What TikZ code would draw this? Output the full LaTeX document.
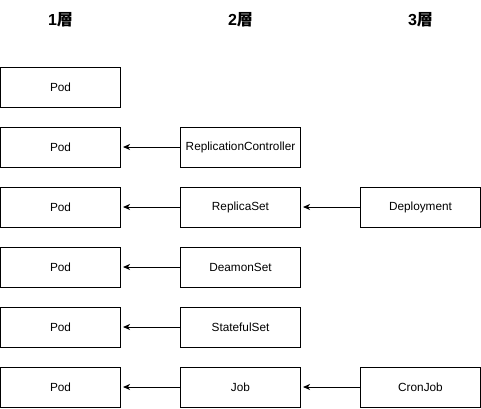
\documentclass[tikz,border=0pt]{standalone}
\usepackage{fontspec}
\setmainfont{Liberation Sans}
\newfontfamily\cjk{Noto Sans CJK JP}
\usetikzlibrary{arrows.meta}
\tikzset{
  layer/.style = {font=\fontsize{16}{18}\selectfont\bfseries},
  res/.style = {draw=black, line width=1pt, minimum width=120pt, minimum height=40pt, inner sep=0pt, font=\fontsize{11.8}{13}\selectfont},
  owns/.style = {color=#1, line width=1pt, -{Stealth[length=7pt,width=6pt,inset=2pt]}, shorten >=2pt}
}

\begin{document}
\begin{tikzpicture}[x=1pt, y=-1pt]

    \useasboundingbox (0,0) rectangle (481,408);

    % Headers
    \node[layer] (h1) at (60.5,20) {1{\cjk 層}};
    \node[layer] (h2) at (240.5,20) {2{\cjk 層}};
    \node[layer] (h3) at (420.5,20) {3{\cjk 層}};

    % Layer 1
    \foreach \i/\y in {1/87,2/147,3/207,4/267,5/327,6/387} {
      \node[res] (pod\i) at (60.5,\y) {Pod};
    }

    % Layer 2
    \node[res] (rc) at (240.5,147) {ReplicationController};
    \node[res] (rs) at (240.5,207) {ReplicaSet};
    \node[res] (ds) at (240.5,267) {DeamonSet};
    \node[res] (sts) at (240.5,327) {StatefulSet};
    \node[res] (job) at (240.5,387) {Job};

    % Layer 3
    \node[res] (deploy) at (420.5,207) {Deployment};
    \node[res] (cron) at (420.5,387) {CronJob};

    % Arrows
    \draw[owns={black}] (rc) -- (pod2);
    \draw[owns={black}] (rs) -- (pod3);
    \draw[owns={black}] (ds) -- (pod4);
    \draw[owns={black}] (sts) -- (pod5);
    \draw[owns={black}] (job) -- (pod6);
    \draw[owns={black}] (deploy) -- (rs);
    \draw[owns={black}] (cron) -- (job);

\end{tikzpicture}
\end{document}
